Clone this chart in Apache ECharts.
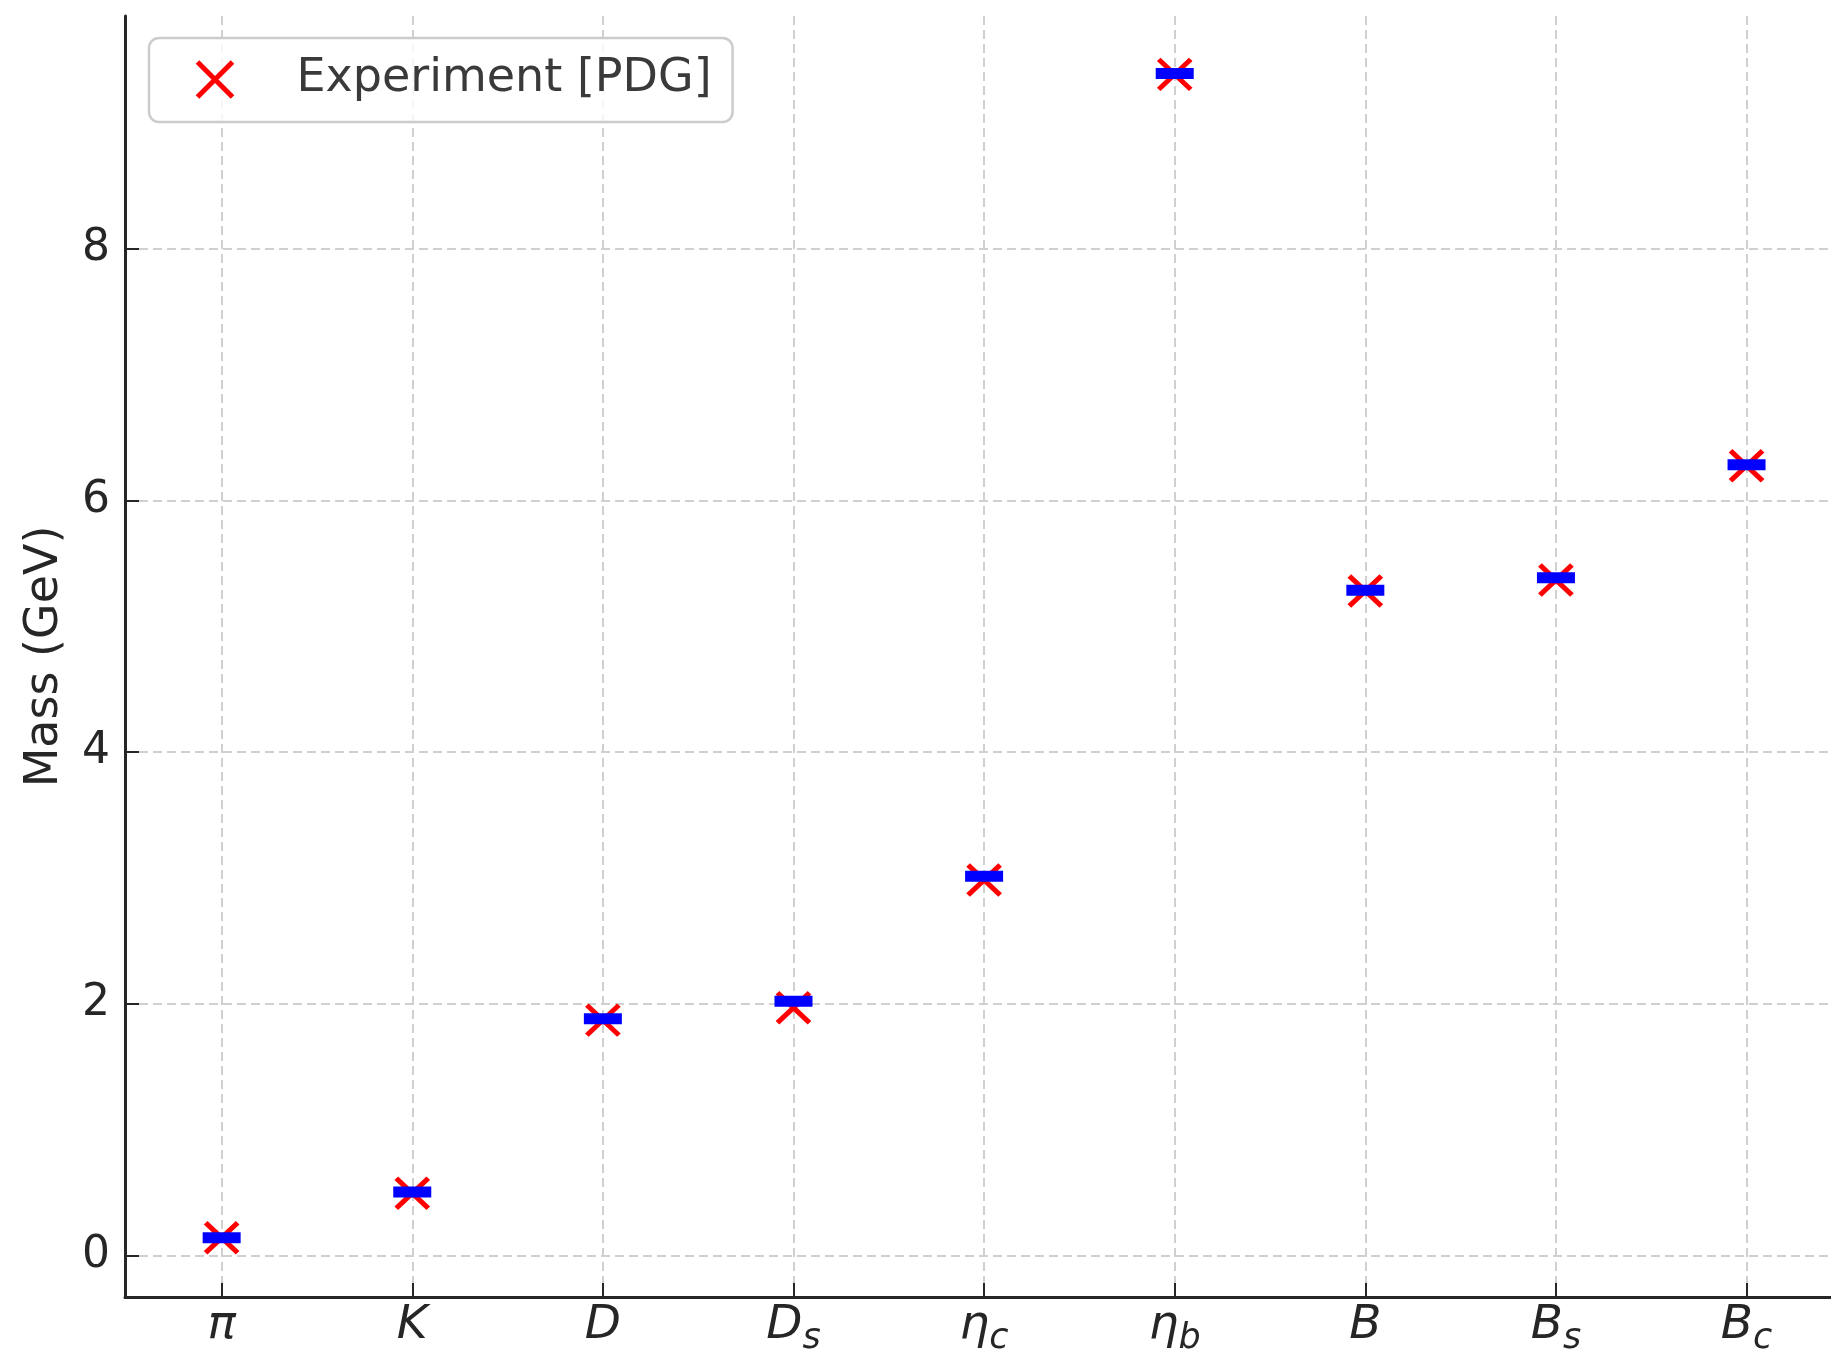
<!DOCTYPE html>
<html>
<head>
<meta charset="utf-8">
<script src="https://cdn.jsdelivr.net/npm/echarts@6/dist/echarts.min.js"></script>
<style>
html,body{margin:0;padding:0;background:#fff;}
#chart{width:1831px;height:1357px;}
</style>
</head>
<body>
<div id="chart"></div>
<script>
// Data
const labelMain = ['π', 'K', 'D', 'D', 'η', 'η', 'B', 'B', 'B'];
const labelSub  = ['',  '',  '',  's', 'c', 'b', '',  's', 'c'];
const experiment = [0.1396, 0.4937, 1.8696, 1.9683, 2.9834, 9.385, 5.2793, 5.3669, 6.2745];
const theory     = [0.140, 0.503, 1.880, 2.020, 3.012, 9.392, 5.286, 5.385, 6.283];
const yTicks = [0, 2, 4, 6, 8];
const xTicks = labelMain.map((_, i) => i);

const font = 'DejaVu Sans';
const gridColor = '#d0d0d0';
const spineColor = '#262626';

const chart = echarts.init(document.getElementById('chart'), null, {renderer: 'canvas'});

const option = {
  backgroundColor: '#ffffff',
  animation: false,
  grid: {left: 125, right: 0, top: 16, bottom: 60, containLabel: false},
  legend: {
    data: ['Experiment [PDG]'],
    left: 149, top: 38,
    orient: 'horizontal',
    padding: [16, 21, 17, 46],
    itemWidth: 37, itemHeight: 35,
    itemGap: 0,
    backgroundColor: 'rgba(255,255,255,0.8)',
    borderColor: '#cccccc',
    borderWidth: 2.5,
    borderRadius: 10,
    itemStyle: {color: 'rgba(0,0,0,0)', borderColor: '#ff0000', borderWidth: 5},
    textStyle: {fontFamily: font, fontSize: 46, color: '#3a3a3a', lineHeight: 51, padding: [0, 0, 0, 58]}
  },
  xAxis: {
    type: 'value',
    min: -0.507, max: 8.443,
    axisLine: {show: true, onZero: false, lineStyle: {color: spineColor, width: 3}},
    axisTick: {show: true, inside: true, length: 14, customValues: xTicks, lineStyle: {color: spineColor, width: 2}},
    splitLine: {show: true, lineStyle: {color: gridColor, width: 2, type: [9, 5]}},
    axisLabel: {
      customValues: xTicks,
      margin: 3,
      formatter: function (v) {
        const i = Math.round(v);
        const m = labelMain[i] || '';
        const s = labelSub[i] || '';
        return '{m|' + m + '}' + (s ? '{s|' + s + '}' : '');
      },
      rich: {
        m: {fontFamily: font, fontStyle: 'italic', fontSize: 47, color: spineColor, lineHeight: 52},
        s: {fontFamily: font, fontStyle: 'italic', fontSize: 35, color: spineColor, lineHeight: 30, padding: [26, 0, 0, 0]}
      }
    }
  },
  yAxis: {
    type: 'value',
    min: -0.331, max: 9.849,
    name: 'Mass (GeV)',
    nameLocation: 'middle',
    nameGap: 57,
    nameTextStyle: {fontFamily: font, fontSize: 46, color: spineColor},
    axisLine: {show: true, onZero: false, lineStyle: {color: spineColor, width: 3}},
    axisTick: {show: true, inside: true, length: 14, customValues: yTicks, lineStyle: {color: spineColor, width: 2}},
    splitLine: {show: true, lineStyle: {color: gridColor, width: 2, type: [9, 5]}},
    axisLabel: {customValues: yTicks, margin: 15, fontFamily: font, fontSize: 44, color: spineColor}
  },
  series: [
    {
      name: 'Experiment [PDG]',
      type: 'scatter',
      symbol: 'path://M0,0L32,32M32,0L0,32',
      symbolSize: [32, 30],
      itemStyle: {color: 'rgba(0,0,0,0)', borderColor: '#ff0000', borderWidth: 5, opacity: 1},
      z: 3,
      data: experiment.map((v, i) => [i, v])
    },
    {
      name: 'Theory',
      type: 'scatter',
      symbol: 'rect',
      symbolSize: [38, 11],
      itemStyle: {color: '#0000ff', opacity: 1},
      z: 4,
      data: theory.map((v, i) => [i, v])
    }
  ]
};
chart.setOption(option);
</script>
</body>
</html>
